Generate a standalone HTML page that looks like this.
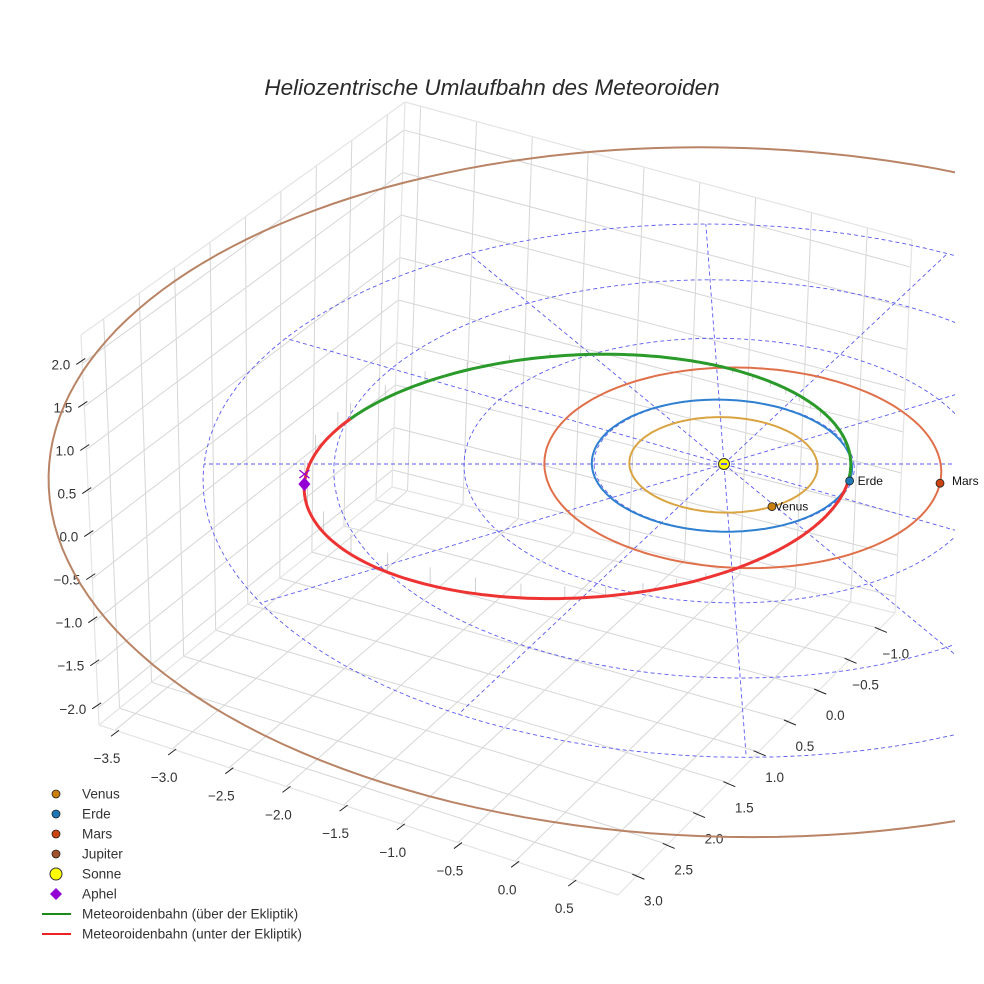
<!DOCTYPE html>
<html><head><meta charset="utf-8">
<style>
html,body{margin:0;padding:0;background:#fff;}
svg{display:block;font-family:"Liberation Sans",sans-serif;}
</style></head>
<body>
<svg id="chart" width="984" height="984" viewBox="0 0 984 984">
<defs><clipPath id="clipScene"><rect x="0" y="95" width="955" height="889"/></clipPath></defs>
<text x="492" y="95" text-anchor="middle" font-size="22.5" font-style="italic" fill="#2a2a2a">Heliozentrische Umlaufbahn des Meteoroiden</text>
<g id="box"></g>
<g id="ticks"></g>
<g id="scene" clip-path="url(#clipScene)"></g>
<g id="labels"></g>
<g id="legend"></g>
</svg>
<script>
// ---- data ----
const xTicks = [-3.5,-3.0,-2.5,-2.0,-1.5,-1.0,-0.5,0.0,0.5];
const yTicks = [-1.0,-0.5,0.0,0.5,1.0,1.5,2.0,2.5,3.0];
const zTicks = [-2.0,-1.5,-1.0,-0.5,0.0,0.5,1.0,1.5,2.0];
const planetNames = ["Venus","Erde","Mars","Jupiter"];
const planetA = [0.723,1.0,1.524,5.203];
const planetE = [0.0068,0.0167,0.0934,0.048];
const planetPeri = [0,0,180,90];
const planetPosAngle = [62,15,10,-10];
const gridRadii = [1,2,3,4];
const gridAngles = [0,30,60,90,120,150,180,210,240,270,300,330];
const meteorA = 2.1;
const meteorE = 0.537;
const meteorSinI = 0.083;
const meteorNode = 70;
const meteorAboveRange = [-162,18];

const NS="http://www.w3.org/2000/svg";
function mk(tag,attrs,parent){const el=document.createElementNS(NS,tag);for(const k in attrs)el.setAttribute(k,attrs[k]);parent.appendChild(el);return el;}
const fmt=v=>(v<0?"\u2212":"")+Math.abs(v).toFixed(1);

// ---- box (axis frame) ----
const xmin=-3.64,xmax=0.9,ymin=-1.25,ymax=3.32,zmin=-2.2,zmax=2.33;
const A=[99,725],B=[618,895],C=[895,613],D=[392,487];
const At=[81,335],Dt=[405,102],Ct=[912,240];
const lerp=(p,q,t)=>[p[0]+(q[0]-p[0])*t,p[1]+(q[1]-p[1])*t];
function floorPt(x,y){const tx=(x-xmin)/(xmax-xmin),ty=(ymax-y)/(ymax-ymin);
 const f=lerp(A,B,tx),b=lerp(D,C,tx);return lerp(f,b,ty);}
function wallX(y,z){const ty=(ymax-y)/(ymax-ymin),tz=(z-zmin)/(zmax-zmin);return lerp(lerp(A,D,ty),lerp(At,Dt,ty),tz);}
function wallY(x,z){const tx=(x-xmin)/(xmax-xmin),tz=(z-zmin)/(zmax-zmin);return lerp(lerp(D,C,tx),lerp(Dt,Ct,tx),tz);}
const box=document.getElementById('box');
function gl(p,q,name){const l=mk('line',{x1:p[0],y1:p[1],x2:q[0],y2:q[1],stroke:'#d6d6d6','stroke-width':1},box);
 }
xTicks.forEach(x=>{gl(floorPt(x,ymax),floorPt(x,ymin),'floor-grid-x');gl(wallY(x,zmin),wallY(x,zmax),'wall-grid-x');});
yTicks.forEach(y=>{gl(floorPt(xmin,y),floorPt(xmax,y),'floor-grid-y');gl(wallX(y,zmin),wallX(y,zmax),'wall-grid-y');});
zTicks.forEach(z=>{gl(wallX(ymax,z),wallX(ymin,z),'wall-grid-z');gl(wallY(xmin,z),wallY(xmax,z),'wall-grid-z');});
[[A,B],[B,C],[A,D],[D,C],[A,At],[D,Dt],[C,Ct],[At,Dt],[Dt,Ct]].forEach(e=>{const l=mk('line',{x1:e[0][0],y1:e[0][1],x2:e[1][0],y2:e[1][1],stroke:'#e4e4e4','stroke-width':1.2},box);
 });

// ---- tick labels ----
const tk=document.getElementById('ticks');
xTicks.forEach(x=>{const p=floorPt(x,ymax);
 const m=mk('line',{x1:p[0]-4,y1:p[1]+6,x2:p[0]+4,y2:p[1],stroke:'#222','stroke-width':1},tk);
 
 const t=mk('text',{x:p[0]-8,y:p[1]+33,'text-anchor':'middle','font-size':13.5,fill:'#333'},tk);t.textContent=fmt(x);
 });
yTicks.forEach(y=>{const p=floorPt(xmax,y);
 const m=mk('line',{x1:p[0]-5,y1:p[1]-1,x2:p[0]+7,y2:p[1]+4,stroke:'#222','stroke-width':1},tk);
 
 const t=mk('text',{x:p[0]+16,y:p[1]+30,'text-anchor':'middle','font-size':13.5,fill:'#333'},tk);t.textContent=fmt(y);
 });
zTicks.forEach(z=>{const p=wallX(ymax,z);
 const m=mk('line',{x1:p[0]-6,y1:p[1]+1,x2:p[0]+3,y2:p[1]-5,stroke:'#222','stroke-width':1},tk);
 
 const t=mk('text',{x:p[0]-12,y:p[1]+6,'text-anchor':'end','font-size':13.5,fill:'#333'},tk);t.textContent=fmt(z);
 });

// ---- ecliptic projection ----
function P(X,Y,Z){const s=1/(1-0.025*Y);return [724+(130*X+5*Y)*s,464+(66*Y-80*Z)*s];}
const rad=d=>d*Math.PI/180;
const sc=document.getElementById('scene');
const lb=document.getElementById('labels');
function pathFrom(pts){return pts.map((p,i)=>(i?'L':'M')+p[0].toFixed(1)+' '+p[1].toFixed(1)).join('');}

gridRadii.forEach(r=>{const pts=[];for(let d=0;d<=360;d+=3)pts.push(P(r*Math.cos(rad(d)),r*Math.sin(rad(d)),0));
 const c=mk('path',{d:pathFrom(pts),fill:'none',stroke:'#5a5af0','stroke-width':0.9,'stroke-dasharray':'4 3'},sc);
 });
gridAngles.forEach(a=>{const R=gridRadii[gridRadii.length-1];const p=P(0,0,0),q=P(R*Math.cos(rad(a)),R*Math.sin(rad(a)),0);
 const l=mk('line',{x1:p[0],y1:p[1],x2:q[0],y2:q[1],stroke:'#5a5af0','stroke-width':0.9,'stroke-dasharray':'4 3'},sc);
 });

const orbitColors=['#d9a441','#2f80d0','#e0704a','#b98466'];
const markerColors=['#c9800d','#1f77b4','#cc4412','#a0522d'];
function orbitR(a,e,nu){return a*(1-e*e)/(1+e*Math.cos(rad(nu)));}
planetNames.forEach((n,i)=>{const pts=[];for(let nu=0;nu<=360;nu+=2){const r=orbitR(planetA[i],planetE[i],nu),ph=rad(nu+planetPeri[i]);pts.push(P(r*Math.cos(ph),r*Math.sin(ph),0));}
 const o=mk('path',{d:pathFrom(pts),fill:'none',stroke:orbitColors[i],'stroke-width':2},sc);
 });

function meteorPt(nu){const r=orbitR(meteorA,meteorE,nu);return [r*Math.cos(rad(nu)),r*Math.sin(rad(nu)),-r*meteorSinI*Math.sin(rad(nu-meteorNode))];}
for(let nu=-162;nu<198;nu+=7){const m=meteorPt(nu);const p=P(m[0],m[1],m[2]),q=P(m[0],m[1],0);
 const l=mk('line',{x1:p[0],y1:p[1],x2:q[0],y2:q[1],stroke:'#c4c4c4','stroke-width':0.8},sc);
 }
const green=[],red=[];
for(let nu=meteorAboveRange[0];nu<=meteorAboveRange[1];nu+=1){const m=meteorPt(nu);green.push(P(m[0],m[1],m[2]));}
for(let nu=meteorAboveRange[1];nu<=meteorAboveRange[0]+360;nu+=1){const m=meteorPt(nu);red.push(P(m[0],m[1],m[2]));}
const gp=mk('path',{d:pathFrom(green),fill:'none',stroke:'#2a9a2a','stroke-width':3},sc);

const rp=mk('path',{d:pathFrom(red),fill:'none',stroke:'#ee3333','stroke-width':3},sc);


const s0=P(0,0,0);
const sun=mk('circle',{cx:s0[0],cy:s0[1],r:5.5,fill:'#ffff00',stroke:'#333','stroke-width':1},sc);

const sunIn=mk('line',{x1:s0[0]-3,y1:s0[1],x2:s0[0]+3,y2:s0[1],stroke:'#5a5af0','stroke-width':2},sc);


planetNames.forEach((n,i)=>{const r=orbitR(planetA[i],planetE[i],planetPosAngle[i]-planetPeri[i]),ph=rad(planetPosAngle[i]);const p=P(r*Math.cos(ph),r*Math.sin(ph),0);
 const c=mk('circle',{cx:p[0],cy:p[1],r:4,fill:markerColors[i],stroke:'#222','stroke-width':0.8},sc);
 
 if(p[0]<955){const t=mk('text',{x:p[0]+(n==='Venus'?3:n==='Mars'?12:8),y:p[1]+(n==='Mars'?2:4),'font-size':12,fill:'#111'},lb);t.textContent=n;
 }});

const am=meteorPt(180);const ap=P(am[0],am[1],am[2]);
const dia=mk('path',{d:`M${ap[0]} ${ap[1]-7}L${ap[0]+6} ${ap[1]}L${ap[0]} ${ap[1]+7}L${ap[0]-6} ${ap[1]}Z`,fill:'#9400d3'},sc);

const ax=mk('path',{d:`M${ap[0]-5} ${ap[1]-14}L${ap[0]+5} ${ap[1]-6}M${ap[0]+5} ${ap[1]-14}L${ap[0]-5} ${ap[1]-6}`,stroke:'#9400d3','stroke-width':1.3},sc);


const lg=document.getElementById('legend');
const legendLabels=['Venus','Erde','Mars','Jupiter','Sonne','Aphel','Meteoroidenbahn (über der Ekliptik)','Meteoroidenbahn (unter der Ekliptik)'];
legendLabels.forEach((lab,i)=>{const y=794+i*20;
 let m;
 if(i<4){m=mk('circle',{cx:56,cy:y,r:4,fill:markerColors[i],stroke:'#222','stroke-width':0.8},lg);}
 else if(i===4){m=mk('circle',{cx:56,cy:y,r:6,fill:'#ffff00',stroke:'#333','stroke-width':1},lg);}
 else if(i===5){m=mk('path',{d:`M56 ${y-6}L62 ${y}L56 ${y+6}L50 ${y}Z`,fill:'#9400d3'},lg);}
 else {m=mk('line',{x1:42,y1:y,x2:71,y2:y,stroke:i===6?'#1a8a1a':'#ee2222','stroke-width':2},lg);}
 
 const t=mk('text',{x:82,y:y+4.5,'font-size':13.6,fill:'#333'},lg);t.textContent=lab;
 });
</script>
</body></html>
